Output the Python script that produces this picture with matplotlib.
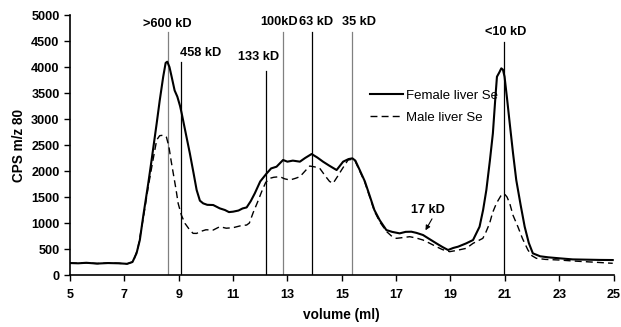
import matplotlib
matplotlib.use("Agg")
import matplotlib.pyplot as plt

# ---------------- data ----------------
female_x = [5.0, 5.3, 5.6, 6.0, 6.4, 6.8, 7.1, 7.3, 7.45, 7.57, 7.7, 7.88, 8.0, 8.19, 8.3, 8.43,
            8.52, 8.58, 8.66, 8.74, 8.85, 8.95, 9.05, 9.11, 9.25, 9.41, 9.55, 9.66, 9.78, 9.90,
            10.05, 10.27, 10.51, 10.7, 10.85, 11.0, 11.2, 11.35, 11.5, 11.65, 11.8, 12.0, 12.23,
            12.4, 12.6, 12.84, 13.0, 13.2, 13.46, 13.65, 13.89, 14.1, 14.31, 14.55, 14.81, 15.05,
            15.25, 15.39, 15.5, 15.66, 15.85, 16.03, 16.2, 16.4, 16.64, 16.85, 17.13, 17.35, 17.56,
            17.75, 17.99, 18.2, 18.48, 18.7, 18.91, 19.1, 19.28, 19.58, 19.83, 20.07, 20.2, 20.32,
            20.45, 20.56, 20.65, 20.71, 20.8, 20.87, 20.93, 20.99, 21.08, 21.18, 21.3, 21.42, 21.58,
            21.73, 21.88, 22.03, 22.3, 22.6, 23.01, 23.5, 24.0, 24.5, 24.97]
female_y = [230, 225, 235, 220, 230, 225, 215, 250, 420, 673, 1150, 1763, 2200, 2917, 3350, 3814,
            4080, 4103, 4000, 3814, 3550, 3430, 3250, 3109, 2750, 2340, 1950, 1635, 1430, 1378,
            1350, 1346, 1282, 1250, 1210, 1218, 1240, 1280, 1300, 1420, 1571, 1800, 1950,
            2050, 2083, 2212, 2180, 2200, 2180, 2250, 2327, 2260, 2180, 2100, 2019, 2180,
            2230, 2244, 2200, 2019, 1800, 1520, 1250, 1050, 865, 830, 801, 830, 833,
            810, 769, 700, 609, 540, 481, 520, 545, 609, 673, 929, 1250, 1635,
            2200, 2724, 3400, 3814, 3900, 3975, 3950, 3814, 3400, 2917, 2350, 1827, 1350,
            929, 620, 417, 360, 340, 321, 300, 295, 290, 288]

male_x = [5.0, 5.3, 5.6, 6.0, 6.4, 6.8, 7.1, 7.33, 7.5, 7.7, 7.88, 8.05, 8.19, 8.3, 8.45, 8.55,
          8.64, 8.72, 8.80, 8.90, 8.98, 9.1, 9.23, 9.4, 9.53, 9.66, 9.78, 10.0, 10.27, 10.51,
          10.75, 11.0, 11.3, 11.5, 11.6, 11.74, 11.9, 12.05, 12.2, 12.35, 12.5, 12.72, 12.9,
          13.09, 13.3, 13.46, 13.65, 13.82, 14.0, 14.19, 14.4, 14.55, 14.68, 14.85, 14.99, 15.23,
          15.39, 15.5, 15.66, 15.85, 16.03, 16.2, 16.4, 16.64, 16.85, 17.01, 17.25, 17.5, 17.75,
          17.99, 18.2, 18.48, 18.7, 18.97, 19.2, 19.58, 19.83, 20.07, 20.19, 20.3, 20.44, 20.55,
          20.69, 20.85, 20.99, 21.08, 21.18, 21.3, 21.48, 21.65, 21.85, 22.0, 22.16, 22.5, 23.01,
          23.5, 24.0, 24.5, 24.97]
male_y = [230, 225, 235, 220, 230, 225, 215, 256, 520, 1100, 1698, 2200, 2596, 2680, 2690, 2650,
          2468, 2200, 1955, 1650, 1378, 1150, 994, 870, 801, 800, 833, 870, 865, 929,
          900, 910, 950, 961, 1000, 1200, 1400, 1600, 1780, 1859, 1880, 1891, 1850,
          1827, 1860, 1891, 2000, 2096, 2080, 2052, 1900, 1800, 1763, 1900, 2019, 2212,
          2225, 2180, 2000, 1780, 1500, 1230, 1020, 840, 740, 705, 720, 737, 710,
          673, 620, 545, 490, 449, 470, 513, 609, 673, 705, 820, 994, 1200,
          1378, 1520, 1558, 1500, 1378, 1150, 929, 700, 481, 370, 321, 300, 288,
          270, 255, 240, 225]

marker_pos = [8.59, 9.08, 12.22, 12.84, 13.91, 15.38, 20.96]
marker_top = [4680, 4090, 3930, 4670, 4670, 4670, 4475]
marker_labels = [">600 kD", "458 kD", "133 kD", "100kD", "63 kD", "35 kD", "<10 kD"]

x_ticks = [5, 7, 9, 11, 13, 15, 17, 19, 21, 23, 25]
y_ticks = [0, 500, 1000, 1500, 2000, 2500, 3000, 3500, 4000, 4500, 5000]
series_names = ["Female liver Se", "Male liver Se"]

# ---------------- figure ----------------
plt.rcParams['font.family'] = ['Liberation Sans', 'DejaVu Sans']
fig = plt.figure(figsize=(6.21, 3.27), dpi=100)
ax = fig.add_axes([0.1127, 0.159, 0.8753, 0.795])

marker_colors = ['#808080', 'black', 'black', '#808080', 'black', '#808080', 'black']
for xp, top, c in zip(marker_pos, marker_top, marker_colors):
    ax.plot([xp, xp], [0, top], color=c, lw=0.9, zorder=1)

ax.plot(female_x, female_y, color='black', lw=1.5, label=series_names[0], zorder=3)
ax.plot(male_x, male_y, color='black', lw=1.0, ls=(0, (5, 3)), label=series_names[1], zorder=3)

# marker labels
label_xy = [(8.57, 4827), (9.82, 4270), (11.95, 4190), (12.68, 4865), (14.04, 4865),
            (15.65, 4865), (21.03, 4673)]
for (tx, ty), lab in zip(label_xy, marker_labels):
    ax.text(tx, ty, lab, ha='center', va='center', fontsize=9.2, fontweight='bold')

ax.text(18.16, 1250, "17 kD", ha='center', va='center', fontsize=9.2, fontweight='bold')
ax.annotate("", xy=(18.08, 860), xytext=(18.32, 1080),
            arrowprops=dict(arrowstyle='-|>', color='black', lw=0.8, mutation_scale=7,
                            shrinkA=0, shrinkB=0))

leg = ax.legend(loc='upper left', bbox_to_anchor=(0.53, 0.76), frameon=False,
                fontsize=9.5, handlelength=2.5, handletextpad=0.2, labelspacing=0.75)

ax.set_xlim(5, 25)
ax.set_ylim(0, 5000)
ax.set_xticks(x_ticks)
ax.set_yticks(y_ticks)
ax.tick_params(axis='both', direction='out', length=4, width=1.0, labelsize=9.1)
for lab in ax.get_xticklabels() + ax.get_yticklabels():
    lab.set_fontweight('bold')
ax.tick_params(axis='x', pad=6)
ax.spines['top'].set_visible(False)
ax.spines['right'].set_visible(False)
ax.spines['left'].set_linewidth(1.2)
ax.spines['bottom'].set_linewidth(1.2)

ax.set_xlabel("volume (ml)", fontsize=9.8, fontweight='bold', labelpad=5)
ax.set_ylabel("CPS m/z 80", fontsize=9.8, fontweight='bold', labelpad=4)

fig.savefig("out.png", dpi=100)
